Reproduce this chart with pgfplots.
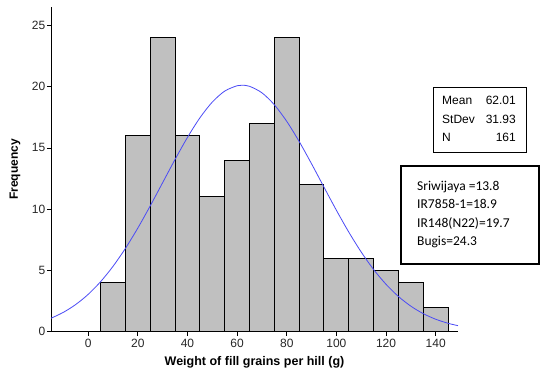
\documentclass[border=0pt]{standalone}
\usepackage{pgfplots}
\pgfplotsset{compat=1.18}
\usepackage{fontspec}
\setmainfont{Liberation Sans}
\newfontfamily\calibri{Carlito}
\definecolor{barg}{RGB}{192,192,192}
\definecolor{curveblue}{RGB}{75,75,245}
\begin{document}
\begin{tikzpicture}
\path[use as bounding box] (-51pt,-43.3pt) rectangle (489pt,331.7pt);
\begin{axis}[at={(0pt,0pt)}, anchor=south west, scale only axis,
 width=407pt, height=324.7pt,
 xmin=-15, xmax=149, ymin=0, ymax=26.5,
 axis x line=bottom, axis y line=left,
 axis line style={-, line width=0.8pt, black},
 xtick={0,20,...,140}, ytick={0,5,...,25},
 tick align=outside, major tick length=4pt,
 tick style={line width=0.8pt, black},
 ticklabel style={font=\fontsize{12}{14}\selectfont, text=black!85},
 yticklabel style={inner sep=1.5pt},
 /pgf/number format/assume math mode=true,
 xlabel={Weight of fill grains per hill (g)}, ylabel={Frequency},
 every axis x label/.style={at={(rel axis cs:0.5,-0.0933)}, anchor=center, font=\bfseries\fontsize{12.5}{15}\selectfont},
 every axis y label/.style={at={(rel axis cs:-0.0885,0.5)}, anchor=center, rotate=90, font=\bfseries\fontsize{12}{14}\selectfont},
 clip=true]
\addplot[ybar, bar width=10, bar shift=0pt, fill=barg, draw=black, line width=1pt]
 coordinates {(10,4) (20,16) (30,24) (40,16) (50,11) (60,14) (70,17) (80,24) (90,12) (100,6) (110,6) (120,5) (130,4) (140,2)};
\addplot[curveblue, line width=0.8pt, smooth, no marks] coordinates {
(-15,1.098) (-10,1.582) (-5,2.224) (0,3.051) (5,4.086) (10,5.338) (15,6.805) (20,8.465) (25,10.276) (30,12.170) (35,14.065) (40,15.861) (45,17.455) (50,18.742) (55,19.637) (60,20.076) (62,20.116) (65,20.028) (70,19.496) (75,18.518) (80,17.164) (85,15.523) (90,13.699) (95,11.796) (100,9.911) (105,8.126) (110,6.502) (115,5.076) (120,3.867) (125,2.874) (130,2.084) (135,1.475) (140,1.019) (145,0.687) (149,0.492)};
\end{axis}
% statistics box
\draw[line width=1pt, fill=white] (382pt,178.7pt) rectangle (475pt,243.7pt);
\begin{scope}[every node/.style={font=\fontsize{12}{14}\selectfont, inner sep=0pt}]
\node[anchor=west] at (391pt,231.7pt) {Mean};
\node[anchor=west] at (391pt,212.7pt) {StDev};
\node[anchor=west] at (391pt,194.7pt) {N};
\node[anchor=east] at (465pt,231.7pt) {62.01};
\node[anchor=east] at (465pt,212.7pt) {31.93};
\node[anchor=east] at (465pt,194.7pt) {161};
\end{scope}
% varieties box
\draw[line width=2pt, fill=white] (350pt,67.7pt) rectangle (488pt,165.7pt);
\begin{scope}[every node/.style={font=\calibri\fontsize{13.5}{16}\selectfont, inner sep=0pt, anchor=west}]
\node at (366pt,145pt) {Sriwijaya =13.8};
\node at (366pt,127.4pt) {IR7858-1=18.9};
\node at (366pt,108.4pt) {IR148(N22)=19.7};
\node at (366pt,90pt) {Bugis=24.3};
\end{scope}
\end{tikzpicture}
\end{document}
